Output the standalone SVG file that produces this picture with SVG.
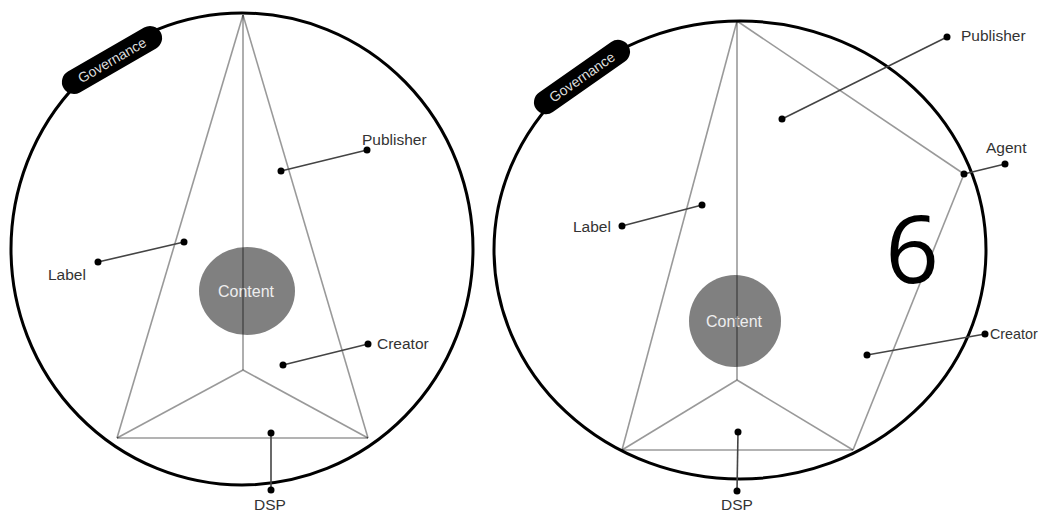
<svg xmlns="http://www.w3.org/2000/svg" width="1039" height="514" viewBox="0 0 1039 514">
<style>
.ring{fill:none;stroke:#000;stroke-width:3}
.edge{stroke:#000;stroke-opacity:0.4;stroke-width:1.6;fill:none}
.lead{stroke:#444;stroke-width:1.6}
.dot{fill:#000}
.lbl{font-family:"Liberation Sans",Arial,sans-serif;font-size:15.5px;fill:#333}
.content{fill:#808080}
.ctext{font-family:"Liberation Sans",Arial,sans-serif;font-size:16px;fill:#eee;text-anchor:middle}
.pill{fill:#000}
.gtext{font-family:"Liberation Sans",Arial,sans-serif;font-size:14px;fill:#ddd;text-anchor:middle}
</style>
<rect width="1039" height="514" fill="#fff"/>

<!-- Left diagram -->
<g id="left-circle"><ellipse class="ring" cx="242" cy="249" rx="231" ry="236"/></g>
<g id="left-content"><ellipse class="content" cx="247" cy="291" rx="48" ry="44"/><text class="ctext" x="246" y="297">Content</text></g>
<g id="left-edges">
<line class="edge" x1="243" y1="15" x2="117" y2="438"/>
<line class="edge" x1="243" y1="15" x2="368" y2="438"/>
<line class="edge" x1="243" y1="15" x2="243" y2="370"/>
<line class="edge" x1="243" y1="370" x2="117" y2="438"/>
<line class="edge" x1="243" y1="370" x2="368" y2="438"/>
<line class="edge" x1="117" y1="438" x2="368" y2="438"/>
</g>
<g id="left-governance" transform="translate(112,60) rotate(-30)"><rect class="pill" x="-56" y="-12" width="112" height="24" rx="12"/><text class="gtext" x="0" y="5">Governance</text></g>
<g id="left-publisher"><line class="lead" x1="281" y1="171" x2="367" y2="150"/><circle class="dot" cx="281" cy="171" r="3.5"/><circle class="dot" cx="367" cy="150" r="3.5"/><text class="lbl" x="362" y="145">Publisher</text></g>
<g id="left-label"><line class="lead" x1="184" y1="242" x2="98" y2="262"/><circle class="dot" cx="184" cy="242" r="3.5"/><circle class="dot" cx="98" cy="262" r="3.5"/><text class="lbl" x="48" y="280">Label</text></g>
<g id="left-creator"><line class="lead" x1="283" y1="365" x2="368" y2="344"/><circle class="dot" cx="283" cy="365" r="3.5"/><circle class="dot" cx="368" cy="344" r="3.5"/><text class="lbl" x="377" y="349">Creator</text></g>
<g id="left-dsp"><line class="lead" x1="271" y1="433" x2="271" y2="490"/><circle class="dot" cx="271" cy="433" r="3.5"/><circle class="dot" cx="271" cy="490" r="3.5"/><text class="lbl" x="270" y="510" text-anchor="middle">DSP</text></g>

<!-- Right diagram -->
<g id="right-circle"><ellipse class="ring" cx="740" cy="250" rx="246" ry="229"/></g>
<g id="right-content"><circle class="content" cx="735" cy="321" r="46"/><text class="ctext" x="734" y="327">Content</text></g>
<g id="right-edges">
<line class="edge" x1="737" y1="21" x2="622" y2="450"/>
<line class="edge" x1="737" y1="21" x2="737" y2="380"/>
<line class="edge" x1="737" y1="21" x2="964" y2="174"/>
<line class="edge" x1="964" y1="174" x2="853" y2="450"/>
<line class="edge" x1="737" y1="380" x2="622" y2="450"/>
<line class="edge" x1="737" y1="380" x2="853" y2="450"/>
<line class="edge" x1="622" y1="450" x2="853" y2="450"/>
</g>
<g id="right-governance" transform="translate(582,77) rotate(-35)"><rect class="pill" x="-56" y="-12" width="112" height="24" rx="12"/><text class="gtext" x="0" y="5">Governance</text></g>
<g id="right-publisher"><line class="lead" x1="782" y1="119" x2="947" y2="37"/><circle class="dot" cx="782" cy="119" r="3.5"/><circle class="dot" cx="947" cy="37" r="3.5"/><text class="lbl" x="961" y="41">Publisher</text></g>
<g id="right-agent"><line class="lead" x1="964" y1="174" x2="1005" y2="164"/><circle class="dot" cx="964" cy="174" r="3.5"/><circle class="dot" cx="1005" cy="164" r="3.5"/><text class="lbl" x="986" y="153">Agent</text></g>
<g id="right-label"><line class="lead" x1="702" y1="205" x2="622" y2="226"/><circle class="dot" cx="702" cy="205" r="3.5"/><circle class="dot" cx="622" cy="226" r="3.5"/><text class="lbl" x="573" y="232">Label</text></g>
<g id="right-creator"><line class="lead" x1="867" y1="355" x2="985" y2="334"/><circle class="dot" cx="867" cy="355" r="3.5"/><circle class="dot" cx="985" cy="334" r="3.5"/><text class="lbl" x="990" y="339" style="font-size:14.3px">Creator</text></g>
<g id="right-dsp"><line class="lead" x1="738" y1="432" x2="737" y2="491"/><circle class="dot" cx="738" cy="432" r="3.5"/><circle class="dot" cx="737" cy="491" r="3.5"/><text class="lbl" x="737" y="510" text-anchor="middle">DSP</text></g>
<g id="six"><text x="912" y="283" text-anchor="middle" style="font-family:'Open Sans','Liberation Sans',sans-serif;font-size:94px;fill:#000">6</text></g>
</svg>
